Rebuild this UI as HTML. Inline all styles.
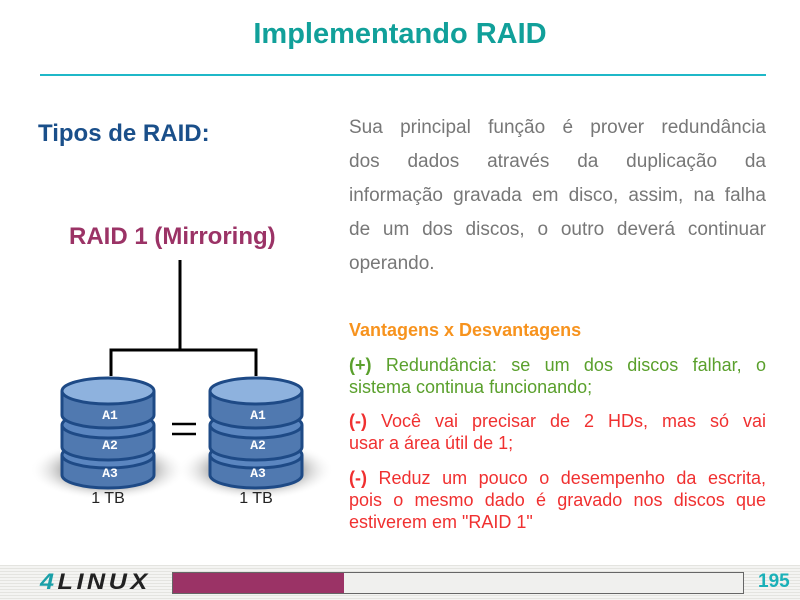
<!DOCTYPE html>
<html><head><meta charset="utf-8"><style>
body{margin:0;width:800px;height:600px;background:#fff;position:relative;overflow:hidden;font-family:"Liberation Sans",sans-serif}
.a{position:absolute}
.j{text-align:justify;text-align-last:justify}
</style></head><body>
<div class="a" style="left:0;top:18px;width:800px;text-align:center;font-size:29px;font-weight:bold;color:#11a09a">Implementando RAID</div>
<div class="a" style="left:40px;top:74px;width:726px;height:2px;background:#1fb8c8"></div>
<div class="a" style="left:38px;top:120px;font-size:24px;font-weight:bold;color:#1a4f8a">Tipos de RAID:</div>
<div class="a" style="left:69px;top:223px;font-size:24px;font-weight:bold;color:#9b3366">RAID 1 (Mirroring)</div>
<div class="a" style="left:349px;top:111px;width:417px;font-size:19px;line-height:34px;color:#777">
<div class="j">Sua principal função é prover redundância</div>
<div class="j">dos dados através da duplicação da</div>
<div class="j">informação gravada em disco, assim, na falha</div>
<div class="j">de um dos discos, o outro deverá continuar</div>
<div>operando.</div></div>
<div class="a" style="left:349px;top:320px;font-size:18px;font-weight:bold;color:#f7931e">Vantagens x Desvantagens</div>
<div class="a" style="left:349px;top:354px;width:417px;font-size:18px;line-height:22px;color:#5aa02c"><div class="j"><b>(+)</b> Redundância: se um dos discos falhar, o</div><div>sistema continua funcionando;</div></div>
<div class="a" style="left:349px;top:410px;width:417px;font-size:18px;line-height:22px;color:#f03030"><div class="j"><b>(-)</b> Você vai precisar de 2 HDs, mas só vai</div><div>usar a área útil de 1;</div></div>
<div class="a" style="left:349px;top:467px;width:417px;font-size:18px;line-height:22px;color:#f03030"><div class="j"><b>(-)</b> Reduz um pouco o desempenho da escrita,</div><div class="j">pois o mesmo dado é gravado nos discos que</div><div>estiverem em "RAID 1"</div></div>
<svg class="a" style="left:0;top:0" width="340" height="520">
<defs><radialGradient id="sh"><stop offset="0" stop-color="#888"/><stop offset="0.6" stop-color="#bbb"/><stop offset="1" stop-color="#fff" stop-opacity="0"/></radialGradient>
<g id="d">
<ellipse cx="0" cy="470" rx="78" ry="30" fill="url(#sh)"/>
<g stroke="#1e4a86" stroke-width="3">
<path d="M-46 455 v20 a46 13 0 0 0 92 0 v-20" fill="#5079b0"/>
<ellipse cx="0" cy="455" rx="46" ry="13" fill="#5b86c0"/>
<path d="M-46 425 v22 a46 13 0 0 0 92 0 v-22" fill="#5079b0"/>
<ellipse cx="0" cy="425" rx="46" ry="13" fill="#5b86c0"/>
<path d="M-46 391 v24 a46 13 0 0 0 92 0 v-24" fill="#5079b0"/>
<ellipse cx="0" cy="391" rx="46" ry="13" fill="#8eb2de"/>
</g>
<g fill="#fff" style="font-family:'Liberation Mono',monospace;font-weight:bold;font-size:13px" text-anchor="middle">
<text x="2" y="419">A1</text><text x="2" y="449">A2</text><text x="2" y="477">A3</text></g>
<text x="0" y="503" style="font-size:16px;font-family:'Liberation Sans',sans-serif" text-anchor="middle" fill="#222">1 TB</text>
</g></defs>
<use href="#d" x="108"/><use href="#d" x="256"/>
<path d="M180 260 V350 M111 376 V350 H256 V376" stroke="#000" stroke-width="3" fill="none"/>
<path d="M172 424 h24 M172 434 h24" stroke="#000" stroke-width="2.5"/>
</svg>
<div class="a" style="left:0;top:565px;width:800px;height:35px;background:repeating-linear-gradient(#e4e4e0 0 1px,#f4f4f2 1px 3px)"></div>
<div class="a" style="left:40px;top:569px;font-size:22px;font-weight:bold;font-style:italic;color:#222;letter-spacing:3px;transform:scaleX(1.15);transform-origin:left"><span style="color:#1aa0a8">4</span>LINUX</div>
<div class="a" style="left:172px;top:572px;width:570px;height:20px;border:1px solid #666;background:#f0f0ee"><div style="width:171px;height:20px;background:#9b3366"></div></div>
<div class="a" style="left:758px;top:571px;font-size:19px;font-weight:bold;color:#1ab0b8">195</div>
</body></html>
